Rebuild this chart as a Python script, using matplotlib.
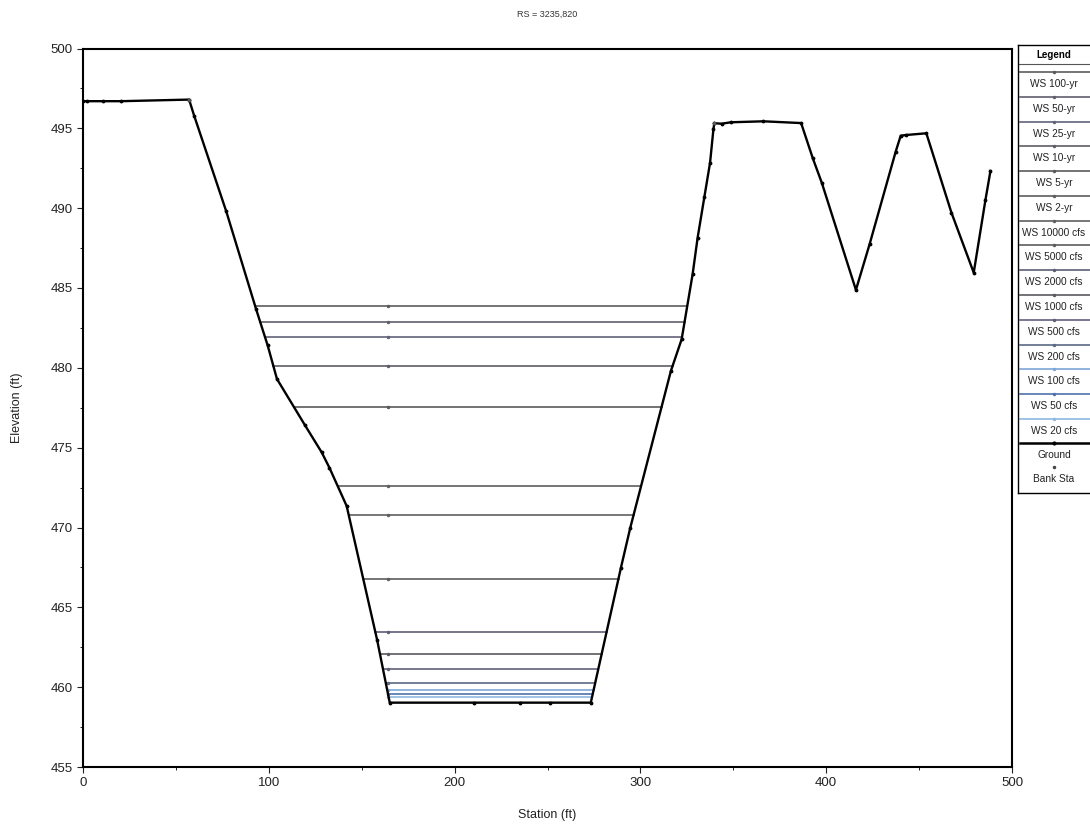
import numpy as np
import matplotlib
matplotlib.use("Agg")
import matplotlib.pyplot as plt
from matplotlib.ticker import MultipleLocator

plt.rcParams['font.family'] = ['Liberation Sans', 'DejaVu Sans']

# ---------------- data ----------------
title = "RS = 3235,820"
ground_sta = [0, 2.2, 10.8, 20.5, 57.1, 59.8, 77.1, 93.1, 99.4, 104.4, 119.5, 128.5,
              132.6, 141.9, 158.3, 165.1, 210.4, 235.2, 251.2, 273.3, 289.5, 294.5,
              316.4, 322.2, 328.1, 330.8, 334.4, 337.5, 339.3, 339.8, 343.7, 348.8,
              366.2, 386.5, 392.8, 397.6, 416.0, 423.4, 437.4, 440.1, 442.8, 453.9,
              467.4, 479.4, 485.7, 488.4]
ground_elev = [496.7, 496.7, 496.7, 496.7, 496.8, 495.8, 489.8, 483.7, 481.4, 479.3,
               476.4, 474.7, 473.75, 471.35, 462.96, 459.03, 459.03, 459.03, 459.03,
               459.03, 467.47, 469.96, 479.8, 481.79, 485.86, 488.15, 490.68, 492.85,
               494.94, 495.32, 495.29, 495.38, 495.44, 495.33, 493.12, 491.6, 484.88,
               487.76, 493.54, 494.54, 494.58, 494.69, 489.72, 485.96, 490.51, 492.33]
bank_sta = [57.1, 339.8]
bank_elev = [496.8, 495.32]

ws_names = ["WS 100-yr", "WS 50-yr", "WS 25-yr", "WS 10-yr", "WS 5-yr", "WS 2-yr",
            "WS 10000 cfs", "WS 5000 cfs", "WS 2000 cfs", "WS 1000 cfs", "WS 500 cfs",
            "WS 200 cfs", "WS 100 cfs", "WS 50 cfs", "WS 20 cfs"]
ws_elev = [483.9, 482.85, 481.9, 480.12, 477.55, 472.62, 470.8, 466.8, 463.46,
           462.08, 461.14, 460.26, 459.83, 459.58, 459.39]
ws_marker_sta = 164.0
ws_colors = ["#5c5c5c", "#60606e", "#62627a", "#5e5e68", "#5a5a5a", "#5e5e5e",
             "#606060", "#5c5c5c", "#5e5e74", "#5a5a60", "#60607a", "#5a6a86",
             "#7aa8d8", "#4f72ac", "#8fb8e0"]

xlim = (0, 500)
ylim = (455, 500)

# ---------------- figure ----------------
W, H = 1090, 825
fig = plt.figure(figsize=(W / 100, H / 100), dpi=100)
ax = fig.add_axes([83 / W, 1 - 767 / H, (1012 - 83) / W, (767 - 48.5) / H])

gs = np.array(ground_sta)
ge = np.array(ground_elev)
imin = int(np.argmin(ge))  # first thalweg point
jmax = len(ge) - 1 - int(np.argmin(ge[::-1]))  # last thalweg point
lb = int(np.argmax(ge[:imin + 1]))

left_s, left_e = gs[lb:imin + 1], ge[lb:imin + 1]
right_s, right_e = gs[jmax:], ge[jmax:]
# keep right bank monotonic portion
k = 1
while k < len(right_e) and right_e[k] >= right_e[k - 1]:
    k += 1
right_s, right_e = right_s[:k], right_e[:k]

for name, z, c in zip(ws_names, ws_elev, ws_colors):
    xl = np.interp(z, left_e[::-1], left_s[::-1])
    xr = np.interp(z, right_e, right_s)
    ax.plot([xl, xr], [z, z], color=c, lw=1.2, zorder=2)
    ax.plot([ws_marker_sta], [z], marker='.', ms=3, color=c, zorder=2)

ax.plot(ground_sta, ground_elev, color='black', lw=1.7, marker='.', ms=3.5, zorder=3)
ax.plot(bank_sta, bank_elev, ls='none', marker='.', ms=3.5, color='#555555', zorder=4)

ax.set_xlim(*xlim)
ax.set_ylim(*ylim)
ax.xaxis.set_major_locator(MultipleLocator(100))
ax.xaxis.set_minor_locator(MultipleLocator(50))
ax.yaxis.set_major_locator(MultipleLocator(5))
ax.yaxis.set_minor_locator(MultipleLocator(2.5))
ax.tick_params(which='major', direction='out', length=4, width=0.8, labelsize=9.5,
               colors='#222222')
ax.tick_params(which='minor', direction='out', length=2.5, width=0.6)
for sp in ax.spines.values():
    sp.set_linewidth(1.5)
ax.set_xlabel("Station (ft)", fontsize=9, color='#222222', labelpad=14)
ax.set_ylabel("Elevation (ft)", fontsize=9, color='#222222', labelpad=20)
fig.text(0.5 * (83 + 1012) / W, 1 - 14 / H, title, ha='center', va='center',
         fontsize=6.5, color='#333333')

# ---------------- legend panel ----------------
lax = fig.add_axes([1018 / W, 1 - 493 / H, (1096 - 1018) / W, (493 - 45) / H])
lax.set_xlim(1018, 1096)
lax.set_ylim(493, 45)
lax.set_xticks([])
lax.set_yticks([])
for sp in lax.spines.values():
    sp.set_linewidth(1.0)
cx = 1054
lax.text(cx, 55, "Legend", ha='center', va='center', fontsize=7, fontweight='bold')
lax.plot([1018, 1096], [64, 64], color='#555555', lw=0.8)
step = (431 - 84) / (len(ws_names) - 1)
for i, (name, c) in enumerate(zip(ws_names, ws_colors)):
    yl = 72 + step * i
    yt = 84 + step * i
    lax.plot([1020, 1093], [yl, yl], color=c, lw=1.2)
    lax.plot([cx], [yl], marker='.', ms=3, color=c)
    lax.text(cx, yt, name, ha='center', va='center', fontsize=7.3, color='#222222')
lax.plot([1020, 1093], [443, 443], color='black', lw=1.8)
lax.plot([cx], [443], marker='.', ms=4, color='black')
lax.text(cx, 455, "Ground", ha='center', va='center', fontsize=7.3, color='#222222')
lax.plot([cx], [467], marker='.', ms=3, color='#444444')
lax.text(cx, 479, "Bank Sta", ha='center', va='center', fontsize=7.3, color='#222222')

fig.savefig("out.png", dpi=100)
